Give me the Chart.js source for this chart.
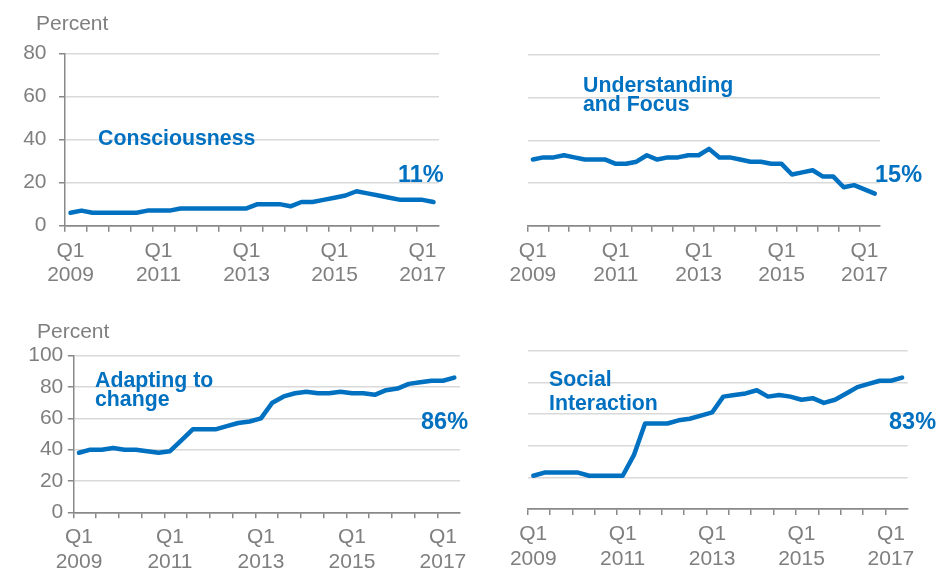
<!DOCTYPE html>
<html lang="en">
<head>
    <meta charset="UTF-8">
    <title>Quarterly shares, 2009-2017</title>
    <script src="https://cdn.jsdelivr.net/npm/chart.js@4.4.1/dist/chart.umd.min.js"></script>
    <style>
        body { margin: 0; background: #fff; font-family: "Liberation Sans", Arial, sans-serif; }
        #wrap { position: relative; width: 939px; height: 570px; overflow: hidden; }
        canvas { position: absolute; }
        .note { position: absolute; color: #0070C0; font-weight: bold; font-size: 21.3px; white-space: nowrap; }
        .pct { position: absolute; color: #0070C0; font-weight: bold; font-size: 23.5px; line-height: 23px; }
        .unit { position: absolute; color: #7f7f7f; font-size: 21px; line-height: 21px; }
    </style>
</head>
<body>
<div id="wrap">
    <canvas id="c1" width="469" height="290" style="left:0;top:0"></canvas>
    <canvas id="c2" width="469" height="290" style="left:470px;top:0"></canvas>
    <canvas id="c3" width="469" height="280" style="left:0;top:290px"></canvas>
    <canvas id="c4" width="469" height="280" style="left:470px;top:290px"></canvas>

    <div class="unit" style="left:36px;top:12px">Percent</div>
    <div class="unit" style="left:37px;top:320px">Percent</div>

    <div class="note" style="left:98px;top:128px;line-height:21px">Consciousness</div>
    <div class="pct" style="left:398px;top:163px">11%</div>

    <div class="note" style="left:583px;top:76px;line-height:19.3px">Understanding<br>and Focus</div>
    <div class="pct" style="left:875px;top:163px">15%</div>

    <div class="note" style="left:95px;top:371px;line-height:18.7px">Adapting to<br>change</div>
    <div class="pct" style="left:421px;top:410px">86%</div>

    <div class="note" style="left:549px;top:367px;line-height:24.2px">Social<br>Interaction</div>
    <div class="pct" style="left:889px;top:410px">83%</div>
</div>

<script>
    const quarters = [
        'Q1 2009', 'Q2 2009', 'Q3 2009', 'Q4 2009',
        'Q1 2010', 'Q2 2010', 'Q3 2010', 'Q4 2010',
        'Q1 2011', 'Q2 2011', 'Q3 2011', 'Q4 2011',
        'Q1 2012', 'Q2 2012', 'Q3 2012', 'Q4 2012',
        'Q1 2013', 'Q2 2013', 'Q3 2013', 'Q4 2013',
        'Q1 2014', 'Q2 2014', 'Q3 2014', 'Q4 2014',
        'Q1 2015', 'Q2 2015', 'Q3 2015', 'Q4 2015',
        'Q1 2016', 'Q2 2016', 'Q3 2016', 'Q4 2016',
        'Q1 2017', 'Q2 2017'
    ];

    const consciousness = [6, 7, 6, 6, 6, 6, 6, 7, 7, 7, 8, 8, 8, 8, 8, 8, 8, 10, 10, 10, 9, 11, 11, 12, 13, 14, 16, 15, 14, 13, 12, 12, 12, 11];
    const understanding = [31, 32, 32, 33, 32, 31, 31, 31, 29, 29, 30, 33, 31, 32, 32, 33, 33, 36, 32, 32, 31, 30, 30, 29, 29, 24, 25, 26, 23, 23, 18, 19, 17, 15];
    const adapting = [38, 40, 40, 41, 40, 40, 39, 38, 39, 46, 53, 53, 53, 55, 57, 58, 60, 70, 74, 76, 77, 76, 76, 77, 76, 76, 75, 78, 79, 82, 83, 84, 84, 86];
    const social = [21, 23, 23, 23, 23, 21, 21, 21, 21, 34, 54, 54, 54, 56, 57, 59, 61, 71, 72, 73, 75, 71, 72, 71, 69, 70, 67, 69, 73, 77, 79, 81, 81, 83];

    // every 8th quarter gets a two-line label
    const labelEvery = 8;

    const BLUE = '#0070C0';
    const AXIS = '#898989';
    const GRID = '#d9d9d9';
    const TEXT = '#7f7f7f';
    const FONT = '"Liberation Sans", Arial, sans-serif';

    // p: canvas id, data, y max, whether y axis shows labels, chart area box inside the canvas
    function makePanel(p) {
        const canvas = document.getElementById(p.id);
        return new Chart(canvas, {
            type: 'line',
            data: {
                labels: quarters,
                datasets: [{
                    data: p.values,
                    borderColor: BLUE,
                    borderWidth: 4.5,
                    pointRadius: 0,
                    tension: 0,
                    borderJoinStyle: 'round',
                    borderCapStyle: 'round'
                }]
            },
            options: {
                responsive: false,
                animation: false,
                events: [],
                clip: false,
                layout: {
                    padding: { top: p.top, right: canvas.width - p.right, left: 0, bottom: 0 }
                },
                plugins: { legend: { display: false }, tooltip: { enabled: false } },
                scales: {
                    x: {
                        offset: true,
                        afterFit: s => { s.height = canvas.height - p.bottom; },
                        border: { display: true, color: AXIS, width: 1.5 },
                        grid: {
                            offset: true,
                            drawOnChartArea: false,
                            drawTicks: true,
                            tickLength: 6,
                            lineWidth: 1.5,
                            color: ctx => ctx.index % 2 === 0 ? AXIS : 'rgba(0,0,0,0)'
                        },
                        ticks: {
                            autoSkip: false,
                            maxRotation: 0,
                            padding: 7,
                            color: TEXT,
                            font: { family: FONT, size: 21, lineHeight: 1.17 },
                            callback: (v, i) => i % labelEvery === 0 ? quarters[i].split(' ') : ''
                        }
                    },
                    y: {
                        min: 0,
                        max: p.max,
                        afterFit: s => { s.width = p.left; },
                        border: { display: p.showY, color: AXIS, width: 1.5 },
                        grid: {
                            drawTicks: p.showY,
                            tickLength: p.tickLen || 6,
                            lineWidth: 1.5,
                            color: ctx => ctx.tick && ctx.tick.value === 0 ? AXIS : GRID,
                            tickColor: AXIS
                        },
                        ticks: {
                            display: p.showY,
                            stepSize: 20,
                            padding: p.labelPad || 0,
                            color: TEXT,
                            font: { family: FONT, size: 21 }
                        }
                    }
                }
            }
        });
    }

    makePanel({ id: 'c1', values: consciousness, max: 80, showY: true, left: 65, top: 53.3, right: 439, bottom: 225.7, labelPad: 12.5 });
    makePanel({ id: 'c2', values: understanding, max: 80, showY: false, left: 57.7, top: 55, right: 410, bottom: 225.7 });
    makePanel({ id: 'c3', values: adapting, max: 100, showY: true, left: 73.3, top: 65.7, right: 460, bottom: 222.3, labelPad: 4.5, tickLen: 5.5 });
    makePanel({ id: 'c4', values: social, max: 100, showY: false, left: 57.7, top: 60.7, right: 437.7, bottom: 219 });
</script>
</body>
</html>
